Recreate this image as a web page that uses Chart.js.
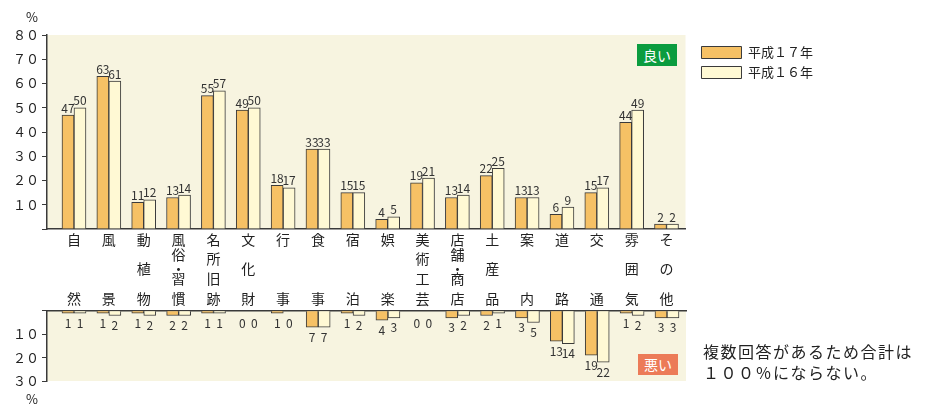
<!DOCTYPE html>
<html lang="ja">
<head>
<meta charset="UTF-8">
<title>良い点・悪い点</title>
<script src="https://cdn.jsdelivr.net/npm/chart.js"></script>
<style>
  body { margin: 0; background: #fff; font-family: "Noto Sans CJK JP", sans-serif; }
  #wrap { position: relative; width: 925px; height: 405px; overflow: hidden; }
  #topChart { position: absolute; left: 0; top: 0; }
  #botChart { position: absolute; left: 0; top: 300px; }
  .pct { position: absolute; left: 26px; font-size: 13px; color: #222; }
  .badge { position: absolute; width: 40px; height: 22px; line-height: 22px; color: #fff; font-size: 14px; text-align: center; }
  #note { position: absolute; left: 703px; top: 341px; font-size: 16px; line-height: 21px; letter-spacing: 1.5px; color: #222; }
</style>
</head>
<body>
<div id="wrap">
  <canvas id="topChart" width="925" height="310"></canvas>
  <canvas id="botChart" width="925" height="105"></canvas>
  <div class="pct" style="top:7px">%</div>
  <div class="pct" style="top:389px">%</div>
  <div class="badge" style="left:637px; top:44px; background:#0b9c3f">良い</div>
  <div class="badge" style="left:638px; top:354px; height:21px; line-height:21px; background:#ec7b58">悪い</div>
  <div id="note">複数回答があるため合計は<br>１００％にならない。</div>
</div>

<script>
// categories (left to right)
const categories = ['自然', '風景', '動植物', '風俗・習慣', '名所旧跡', '文化財', '行事', '食事', '宿泊',
                    '娯楽', '美術工芸', '店舗・商店', '土産品', '案内', '道路', '交通', '雰囲気', 'その他'];

// 良い (%)
const good17 = [47, 63, 11, 13, 55, 49, 18, 33, 15, 4, 19, 13, 22, 13, 6, 15, 44, 2];
const good16 = [50, 61, 12, 14, 57, 50, 17, 33, 15, 5, 21, 14, 25, 13, 9, 17, 49, 2];

// 悪い (%)
const bad17 = [1, 1, 1, 2, 1, 0, 1, 7, 1, 4, 0, 3, 2, 3, 13, 19, 1, 3];
const bad16 = [1, 2, 2, 2, 1, 0, 0, 7, 2, 3, 0, 2, 1, 5, 14, 22, 2, 3];

const seriesNames = ['平成１７年', '平成１６年'];

const FONT = '"Noto Sans CJK JP", sans-serif';
const C17 = '#f6c165';
const C16 = '#fff9d4';
const EDGE = '#3a3a3a';
const BG = '#f7f4e0';
const X_MIN = -0.774, X_MAX = 17.545;

const idx = categories.map((_, i) => i);

// full-width digits for the axis numbers
const fw = n => String(n).replace(/[0-9]/g, d => String.fromCharCode(d.charCodeAt(0) + 0xFEE0));

// vertical label: spread the characters over 13 thin lines
function vLabel(name) {
  const chars = [...(name || '')];
  const slots = { 1: [0], 2: [0, 12], 3: [0, 6, 12], 4: [0, 4, 8, 12], 5: [0, 3, 6, 8, 12] }[chars.length] || [];
  const lines = Array(13).fill('');
  chars.forEach((c, i) => { lines[slots[i]] = c; });
  return lines;
}

const plotBg = {
  id: 'plotBg',
  beforeDraw(chart) {
    const a = chart.chartArea, ctx = chart.ctx;
    ctx.save();
    ctx.fillStyle = BG;
    ctx.fillRect(a.left, a.top, a.right - a.left, a.bottom - a.top);
    ctx.restore();
  }
};

const valueLabels = {
  id: 'valueLabels',
  afterDatasetsDraw(chart, args, opts) {
    const ctx = chart.ctx;
    ctx.save();
    ctx.font = '12px ' + FONT;
    ctx.fillStyle = '#333';
    ctx.textAlign = 'center';
    chart.data.datasets.forEach((ds, di) => {
      chart.getDatasetMeta(di).data.forEach((bar, i) => {
        const v = ds.data[i];
        if (opts.below) {
          ctx.textBaseline = 'middle';
          ctx.fillText(v, bar.x, Math.max(bar.y + 10, chart.chartArea.top + 12.5));
        } else {
          ctx.textBaseline = 'bottom';
          ctx.fillText(v, bar.x, bar.y - 1);
        }
      });
    });
    ctx.restore();
  }
};

function barSet(label, data, color) {
  return { label, data, backgroundColor: color, borderColor: EDGE, borderWidth: 1, barThickness: 12 };
}

// linear index axis, one tick per category
function xAxis(extra) {
  return Object.assign({
    type: 'linear', min: X_MIN, max: X_MAX, bounds: 'data', offset: false,
    grid: { display: false, drawTicks: false },
    border: { color: EDGE, width: 1.5 },
    afterBuildTicks: s => { s.ticks = idx.map(v => ({ value: v })); }
  }, extra);
}

function yAxis(max, reverse) {
  return {
    min: 0, max, reverse,
    ticks: { stepSize: 10, padding: 3, color: '#222', font: { size: 13, family: FONT },
             callback: v => v === 0 ? '' : fw(v) },
    grid: { drawOnChartArea: false, tickLength: 5, color: EDGE },
    border: { color: EDGE, width: 1.5 },
    afterFit: s => { s.width = 47; }
  };
}

// 良い
new Chart(document.getElementById('topChart'), {
  type: 'bar',
  data: {
    labels: idx,
    datasets: [barSet(seriesNames[0], good17, C17), barSet(seriesNames[1], good16, C16)]
  },
  options: {
    responsive: false,
    animation: false,
    layout: { padding: { top: 35, right: 102, bottom: 0, left: 0 } },
    plugins: {
      legend: {
        position: 'right', align: 'start',
        title: { display: true, text: '', padding: 0, font: { size: 4, lineHeight: 1 } },
        labels: { boxWidth: 40, boxHeight: 12, padding: 7, color: '#222', font: { size: 13, family: FONT } }
      },
      tooltip: { enabled: false },
      valueLabels: { below: false }
    },
    scales: {
      x: xAxis({
        ticks: {
          autoSkip: false, maxRotation: 0, padding: 8,
          color: '#222', font: { size: 14, family: FONT, lineHeight: '4.92px' },
          callback: v => vLabel(categories[v])
        },
        afterFit: s => { s.height = 81; }
      }),
      y: yAxis(80, false),
      spacer: {
        position: 'right', display: true,
        grid: { display: false }, ticks: { display: false }, border: { display: false },
        afterFit: s => { s.width = 9; }
      }
    }
  },
  plugins: [plotBg, valueLabels]
});

// 悪い
new Chart(document.getElementById('botChart'), {
  type: 'bar',
  data: {
    labels: idx,
    datasets: [barSet(seriesNames[0], bad17, C17), barSet(seriesNames[1], bad16, C16)]
  },
  options: {
    responsive: false,
    animation: false,
    layout: { padding: { top: 8.5, right: 239, bottom: 24, left: 0 } },
    plugins: {
      legend: { display: false },
      tooltip: { enabled: false },
      valueLabels: { below: true }
    },
    scales: {
      x: xAxis({ position: 'top', ticks: { display: false } }),
      y: yAxis(30, true)
    }
  },
  plugins: [plotBg, valueLabels]
});
</script>
</body>
</html>
